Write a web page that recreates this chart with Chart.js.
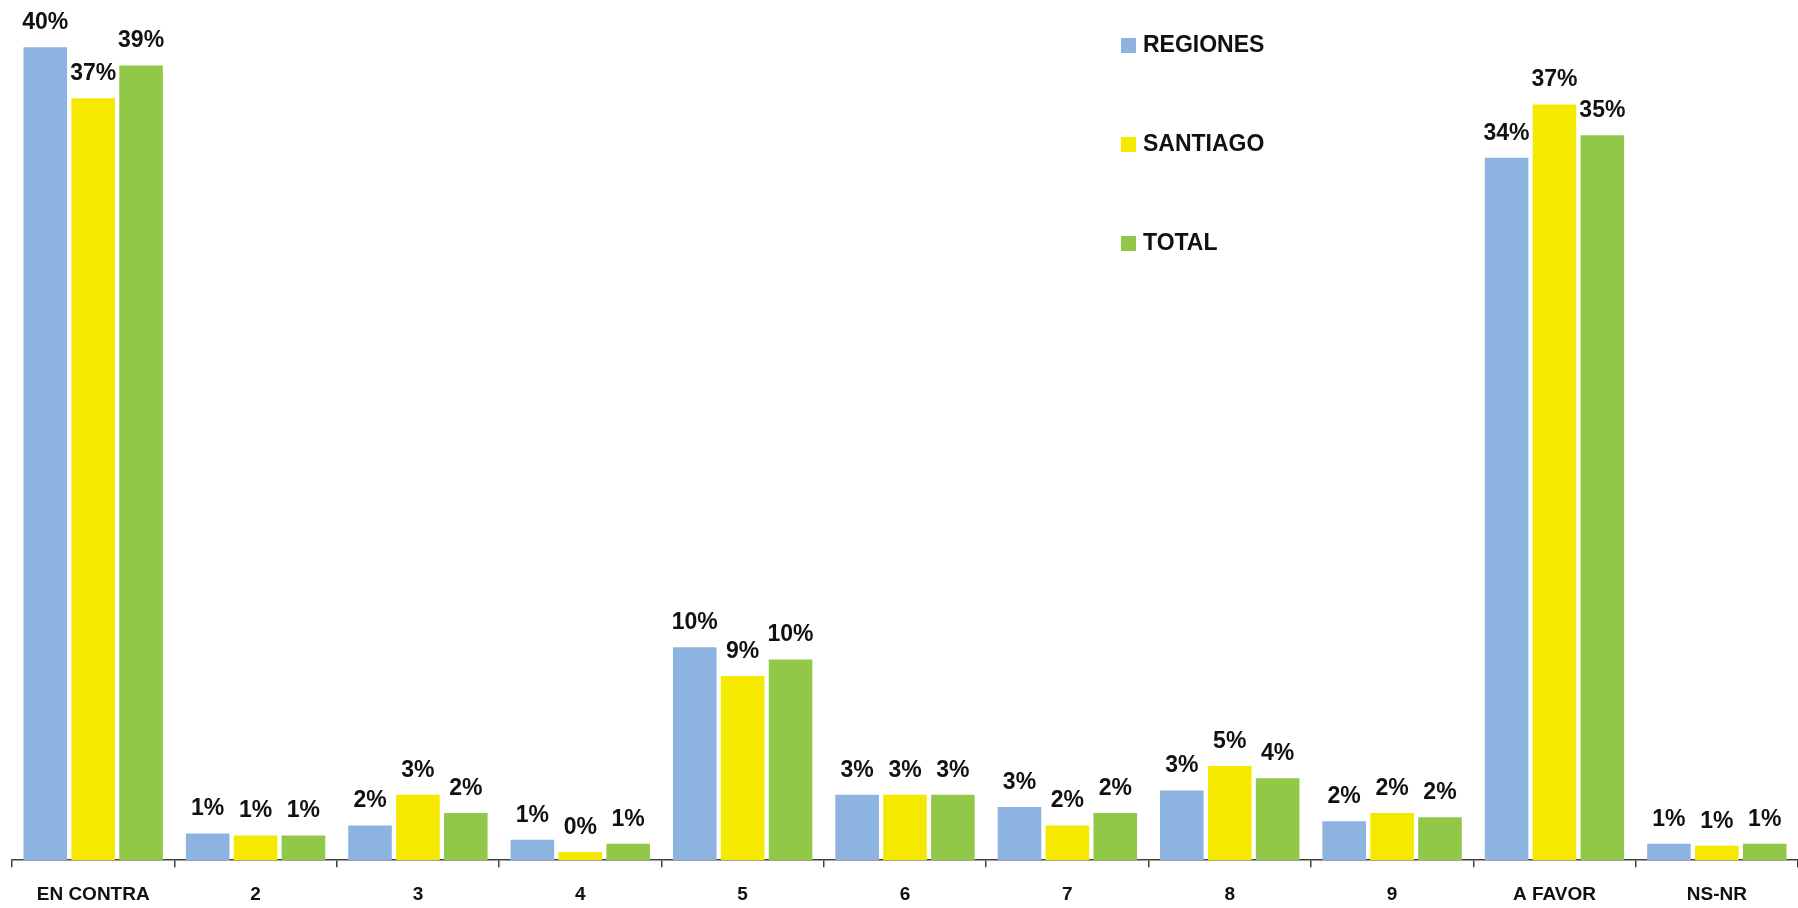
<!DOCTYPE html>
<html>
<head>
<meta charset="utf-8">
<script src="https://cdn.jsdelivr.net/npm/chart.js@4.4.1/dist/chart.umd.min.js"></script>
<style>
  html, body { margin: 0; padding: 0; background: #fff; }
  #wrap { width: 1798px; height: 908px; position: relative; }
</style>
</head>
<body>
<div id="wrap"><canvas id="chart"></canvas></div>
<script>
const categories = ["EN CONTRA", "2", "3", "4", "5", "6", "7", "8", "9", "A FAVOR", "NS-NR"];
const regiones = [39.7, 1.3, 1.7, 1.0, 10.4, 3.2, 2.6, 3.4, 1.9, 34.3, 0.8];
const santiago = [37.2, 1.2, 3.2, 0.4, 9.0, 3.2, 1.7, 4.6, 2.3, 36.9, 0.7];
const total = [38.8, 1.2, 2.3, 0.8, 9.8, 3.2, 2.3, 4.0, 2.1, 35.4, 0.8];

const seriesNames = ["REGIONES", "SANTIAGO", "TOTAL"];
const colors = ["#8DB3E0", "#F5E900", "#92C848"];

// value labels above each bar
const barLabels = {
  id: "barLabels",
  afterDatasetsDraw(chart) {
    const ctx = chart.ctx;
    ctx.save();
    ctx.font = "bold 23px 'Liberation Sans', Arial, sans-serif";
    ctx.fillStyle = "#111";
    ctx.textAlign = "center";
    ctx.textBaseline = "bottom";
    chart.data.datasets.forEach((ds, i) => {
      chart.getDatasetMeta(i).data.forEach((bar, j) => {
        ctx.fillText(Math.round(ds.data[j]) + "%", bar.x, bar.y - 13);
      });
    });
    ctx.restore();
  }
};

// vertical legend sitting inside the plot, upper middle-right
const sideLegend = {
  id: "sideLegend",
  afterDraw(chart) {
    const ctx = chart.ctx;
    ctx.save();
    ctx.font = "bold 23px 'Liberation Sans', Arial, sans-serif";
    ctx.textBaseline = "middle";
    chart.data.datasets.forEach((ds, i) => {
      const y = 45 + i * 99;
      ctx.fillStyle = ds.backgroundColor;
      ctx.fillRect(1121, y - 7, 15, 15);
      ctx.fillStyle = "#111";
      ctx.fillText(ds.label, 1143, y + 1);
    });
    ctx.restore();
  }
};

new Chart(document.getElementById("chart"), {
  type: "bar",
  data: {
    labels: categories,
    datasets: [
      { label: seriesNames[0], data: regiones, backgroundColor: colors[0] },
      { label: seriesNames[1], data: santiago, backgroundColor: colors[1] },
      { label: seriesNames[2], data: total, backgroundColor: colors[2] }
    ]
  },
  options: {
    responsive: true,
    maintainAspectRatio: false,
    animation: false,
    datasets: {
      bar: { categoryPercentage: 0.885, barPercentage: 0.91 }
    },
    plugins: {
      legend: { display: false },
      tooltip: { enabled: false }
    },
    layout: {
      padding: { top: 41, right: 0, bottom: -14, left: 12 }
    },
    scales: {
      x: {
        grid: {
          offset: true,
          drawOnChartArea: false,
          drawTicks: true,
          tickLength: 7,
          color: "#404040",
          lineWidth: 1.5
        },
        border: { display: true, color: "#404040", width: 1.5 },
        ticks: {
          color: "#111",
          padding: 16,
          maxRotation: 0,
          autoSkip: false,
          font: { family: "'Liberation Sans', Arial, sans-serif", size: 19, weight: "bold" }
        }
      },
      y: {
        display: false,
        min: 0,
        max: 40
      }
    }
  },
  plugins: [barLabels, sideLegend]
});
</script>
</body>
</html>
